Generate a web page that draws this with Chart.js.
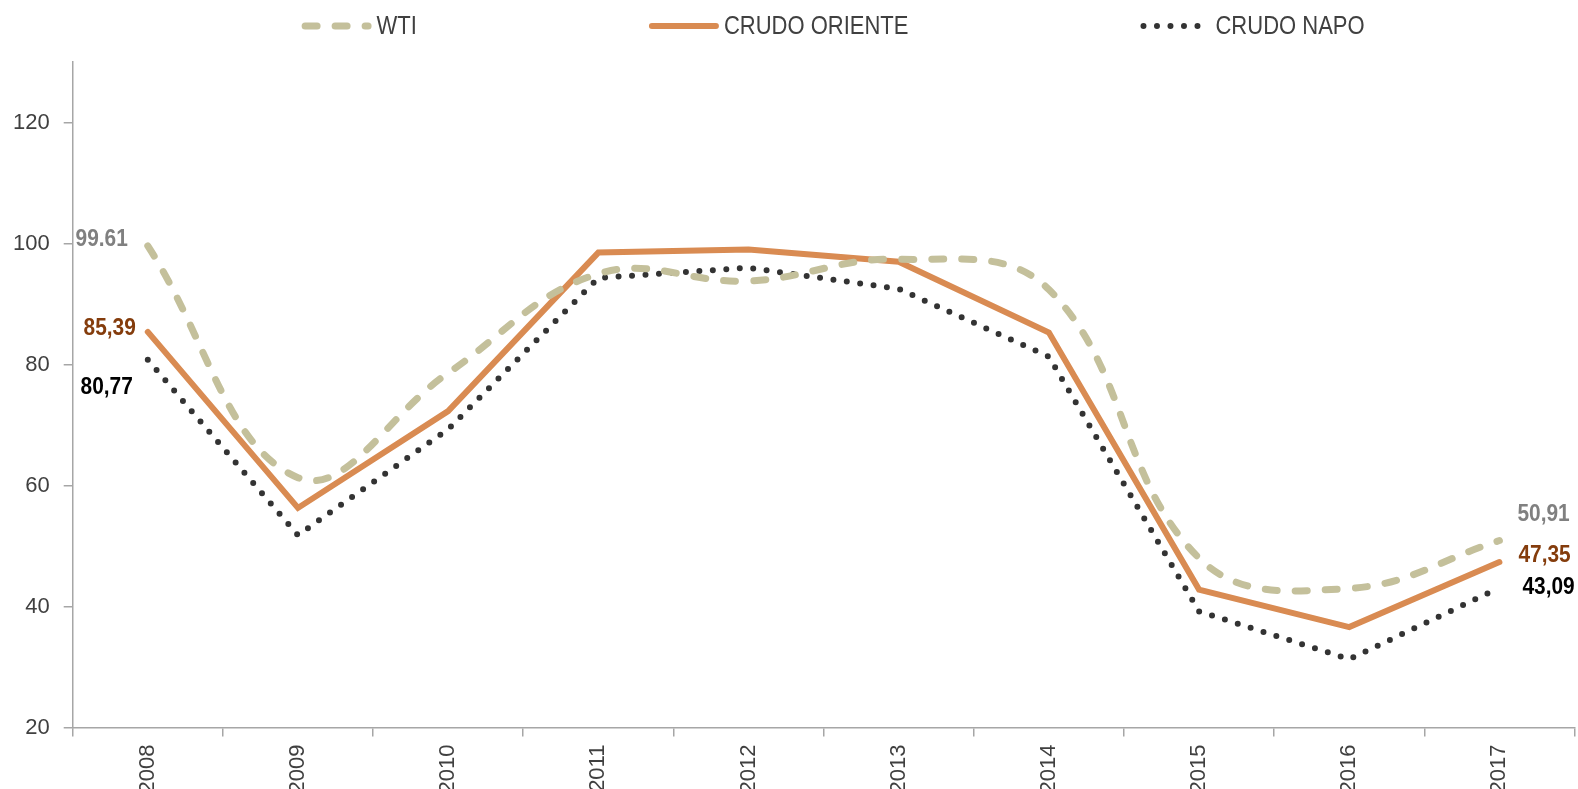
<!DOCTYPE html>
<html>
<head>
<meta charset="utf-8">
<script src="https://cdn.jsdelivr.net/npm/chart.js@4.4.1/dist/chart.umd.min.js"></script>
<style>
  html, body { margin: 0; padding: 0; background: #fff; }
  #wrap { width: 1578px; height: 789px; position: relative; }
</style>
</head>
<body>
<div id="wrap"><canvas id="grafico"></canvas></div>
<script>
// Datos (precio promedio anual, USD/barril)
const anios = ['2008', '2009', '2010', '2011', '2012', '2013', '2014', '2015', '2016', '2017'];
const wti = [99.61, 61.3, 78.6, 95.0, 93.8, 97.4, 92.4, 48.0, 43.0, 50.91];
const oriente = [85.39, 56.3, 72.3, 98.5, 99.0, 97.0, 85.3, 42.8, 36.6, 47.35];
const napo = [80.77, 51.8, 69.3, 94.3, 96.0, 92.5, 81.3, 39.2, 31.3, 43.09];
const ticksY = [20, 40, 60, 80, 100, 120];
// etiquetas del primer y último año
const etiquetasWti = ['99.61', '50,91'];
const etiquetasOriente = ['85,39', '47,35'];
const etiquetasNapo = ['80,77', '43,09'];

const FAMILIA = "'Liberation Sans', Arial, sans-serif";
function fuente(px, peso) {
  return (peso || 'normal') + ' ' + px + 'px ' + FAMILIA;
}

// texto estrecho (no hay Arial Narrow instalada)
function textoEstrecho(ctx, texto, x, y, alinear, escala) {
  const w = ctx.measureText(texto).width * escala;
  let x0 = x;
  if (alinear === 'right') x0 = x - w;
  else if (alinear === 'center') x0 = x - w / 2;
  ctx.save();
  ctx.translate(x0, y);
  ctx.scale(escala, 1);
  ctx.textAlign = 'left';
  ctx.fillText(texto, 0, 0);
  ctx.restore();
  return w;
}

// leyenda arriba, dibujada con los estilos de cada serie
const leyenda = {
  id: 'leyenda',
  afterDraw(chart) {
    const ctx = chart.ctx;
    const area = chart.chartArea;
    const largo = 70, sep = 5, hueco = 232, escala = 0.88;
    ctx.save();
    ctx.font = fuente(25);
    ctx.textBaseline = 'middle';
    const items = chart.data.datasets.map(ds => ({ ds, w: largo + sep + ctx.measureText(ds.label).width * escala }));
    const total = items.reduce((s, it) => s + it.w, 0) + hueco * (items.length - 1);
    let x = (area.left + area.right) / 2 - total / 2 + 9.5;
    const y = 26;
    items.forEach(it => {
      const ds = it.ds;
      const m = ds.borderWidth / 2;
      ctx.beginPath();
      ctx.strokeStyle = ds.borderColor;
      ctx.lineWidth = ds.borderWidth;
      ctx.lineCap = ds.borderCapStyle || 'butt';
      ctx.setLineDash(ds.borderDash || []);
      ctx.moveTo(x + m, y);
      ctx.lineTo(x + largo - m, y);
      ctx.stroke();
      ctx.setLineDash([]);
      ctx.fillStyle = '#404040';
      textoEstrecho(ctx, ds.label, x + largo + sep, y + 1, 'left', escala);
      x += it.w + hueco;
    });
    ctx.restore();
  }
};

// valores al inicio y al final de cada serie
const valores = {
  id: 'valores',
  afterDatasetsDraw(chart, args, opts) {
    const ctx = chart.ctx;
    ctx.save();
    ctx.font = fuente(24, 'bold');
    ctx.textBaseline = 'middle';
    opts.items.forEach(it => {
      const meta = chart.getDatasetMeta(it.serie);
      const ultimo = meta.data.length - 1;
      [[0, it.inicio], [ultimo, it.fin]].forEach(([i, pos], k) => {
        const p = meta.data[i];
        ctx.fillStyle = it.color;
        textoEstrecho(ctx, it.textos[k], p.x + pos.dx, p.y + pos.dy, pos.align, 0.87);
      });
    });
    ctx.restore();
  }
};

const ctx = document.getElementById('grafico').getContext('2d');
new Chart(ctx, {
  type: 'line',
  data: {
    labels: anios,
    datasets: [
      {
        label: 'WTI',
        data: wti,
        borderColor: '#c4c09b',
        borderWidth: 7,
        borderDash: [12, 18],
        borderCapStyle: 'round',
        tension: 0.4,
        pointRadius: 0,
        fill: false
      },
      {
        label: 'CRUDO ORIENTE',
        data: oriente,
        borderColor: '#d98b52',
        borderWidth: 6,
        borderCapStyle: 'round',
        tension: 0,
        pointRadius: 0,
        fill: false
      },
      {
        label: 'CRUDO NAPO',
        data: napo,
        borderColor: '#333333',
        borderWidth: 6,
        borderDash: [0, 13.5],
        borderCapStyle: 'round',
        tension: 0,
        pointRadius: 0,
        fill: false
      }
    ]
  },
  options: {
    responsive: true,
    maintainAspectRatio: false,
    animation: false,
    layout: { padding: { top: 62, left: -1, right: 3.5, bottom: -12.5 } },
    plugins: {
      legend: { display: false },
      tooltip: { enabled: false },
      valores: {
        items: [
          { serie: 0, textos: etiquetasWti, color: '#808080',
            inicio: { align: 'right', dx: -20, dy: -7 }, fin: { align: 'left', dx: 18, dy: -26 } },
          { serie: 1, textos: etiquetasOriente, color: '#843c0c',
            inicio: { align: 'right', dx: -12, dy: -4 }, fin: { align: 'left', dx: 19, dy: -7 } },
          { serie: 2, textos: etiquetasNapo, color: '#000000',
            inicio: { align: 'right', dx: -15, dy: 28 }, fin: { align: 'left', dx: 23, dy: 0 } }
        ]
      }
    },
    scales: {
      x: {
        offset: true,
        grid: { offset: true, drawOnChartArea: false, drawTicks: true, tickLength: 9, color: '#a6a6a6', lineWidth: 1.5 },
        border: { color: '#a6a6a6', width: 1.5 },
        ticks: {
          autoSkip: false, minRotation: 90, maxRotation: 90, padding: 8,
          color: '#404040', font: { family: FAMILIA, size: 22 }
        }
      },
      y: {
        min: 20,
        max: 130,
        afterBuildTicks: (scale) => { scale.ticks = ticksY.map(v => ({ value: v })); },
        grid: { drawOnChartArea: false, drawTicks: true, tickLength: 9, color: '#a6a6a6', lineWidth: 1.5 },
        border: { color: '#a6a6a6', width: 1.5 },
        ticks: { padding: 14, color: '#404040', font: { family: FAMILIA, size: 22 } }
      }
    }
  },
  plugins: [leyenda, valores]
});
</script>
</body>
</html>
